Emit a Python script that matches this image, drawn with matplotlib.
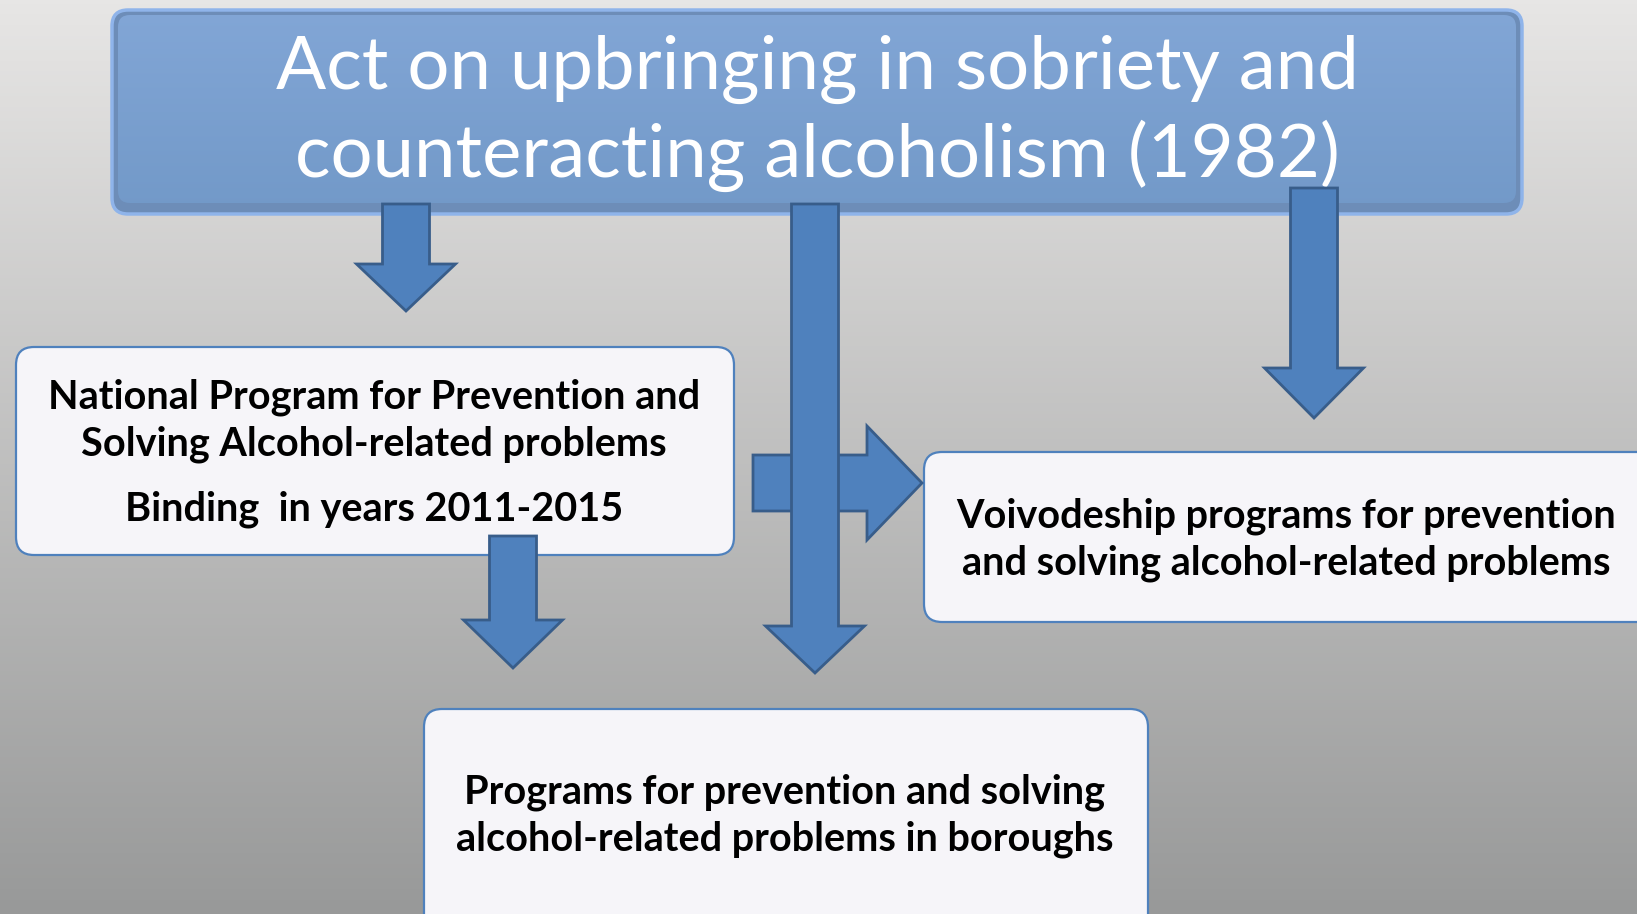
import numpy as np
import matplotlib
matplotlib.use("Agg")
import matplotlib.pyplot as plt
from matplotlib.patches import FancyBboxPatch, Polygon

# ---------------------------------------------
# Diagram content (texts) and layout (pixels)
# ---------------------------------------------
W, H = 1637, 914

title_lines = ["Act on upbringing in sobriety and", "counteracting alcoholism (1982)"]
national_lines = ["National Program for Prevention and", "Solving Alcohol-related problems"]
national_note = "Binding  in years 2011-2015"
voivodeship_lines = ["Voivodeship programs for prevention", "and solving alcohol-related problems"]
borough_lines = ["Programs for prevention and solving", "alcohol-related problems in boroughs"]

# boxes: (x0, y0, x1, y1)
top_box = (112, 10, 1522, 214)
left_box = (16, 347, 734, 555)
right_box = (924, 452, 1665, 622)
bottom_box = (424, 709, 1148, 935)

# down arrows: (center x, y top, y head start, y tip)
down_arrows = [
    (406, 204, 264, 311),
    (513, 536, 620, 668),
    (1314, 188, 368, 418),
    (815, 204, 626, 673),
]
shaft_half = 23.5
head_half = 49.5

# right arrow: (x start, x head start, x tip, center y)
right_arrow = (753, 867, 922, 483)
r_shaft_half = 28
r_head_half = 57

arrow_fill = "#4F81BD"
arrow_edge = "#385D8A"
box_fill = "#F6F5F9"
box_edge = "#4F81BD"

plt.rcParams["font.family"] = ["Lato", "DejaVu Sans"]

fig = plt.figure(figsize=(W / 100, H / 100), dpi=100)
ax = fig.add_axes([0, 0, 1, 1])
ax.set_xlim(0, W)
ax.set_ylim(H, 0)
ax.axis("off")

# background gradient (light gray top -> darker gray bottom)
t = np.linspace(0, 1, 256)[:, None]
top_c = np.array([231, 230, 229]) / 255
bot_c = np.array([152, 153, 153]) / 255
bg = top_c + (bot_c - top_c) * t
bg = np.repeat(bg[:, None, :], 2, axis=1)
ax.imshow(bg, extent=(0, W, H, 0), aspect="auto", zorder=0)

# top box with blue gradient
x0, y0, x1, y1 = top_box
shadow = FancyBboxPatch((x0, y0), x1 - x0, y1 - y0,
                        boxstyle="round,pad=0,rounding_size=16",
                        fc="#6D8DB8", ec="#8FB4EA", lw=2.5, zorder=1)
ax.add_patch(shadow)
inner = FancyBboxPatch((x0 + 6, y0 + 5), x1 - x0 - 12, y1 - y0 - 16,
                       boxstyle="round,pad=0,rounding_size=12",
                       fc="none", ec="none", zorder=2)
ax.add_patch(inner)
tg = np.linspace(0, 1, 128)[:, None]
c_top = np.array([130, 166, 214]) / 255
c_bot = np.array([114, 153, 200]) / 255
grad = c_top + (c_bot - c_top) * tg
grad = np.repeat(grad[:, None, :], 2, axis=1)
im = ax.imshow(grad, extent=(x0, x1, y1, y0), aspect="auto", zorder=2)
im.set_clip_path(inner)

for i, line in enumerate(title_lines):
    ax.text((x0 + x1) / 2, 69 + i * 87, line, ha="center", va="center",
            color="white", fontsize=53.5, zorder=3)

# white rounded boxes
for (bx0, by0, bx1, by1) in [left_box, right_box, bottom_box]:
    ax.add_patch(FancyBboxPatch((bx0, by0), bx1 - bx0, by1 - by0,
                                boxstyle="round,pad=0,rounding_size=18",
                                fc=box_fill, ec=box_edge, lw=1.6, zorder=4))

box_font = dict(ha="center", va="center", color="black", fontsize=28.5,
                fontweight="bold", zorder=6)
for i, line in enumerate(national_lines):
    ax.text(374, 397 + i * 47, line, **box_font)
ax.text(374, 509, national_note, **box_font)
for i, line in enumerate(voivodeship_lines):
    ax.text(1286, 516 + i * 47, line, **box_font)
for i, line in enumerate(borough_lines):
    ax.text(785, 792 + i * 47, line, **box_font)

# horizontal arrow (drawn under the long vertical one)
xs, xh, xt, yc = right_arrow
ax.add_patch(Polygon([(xs, yc - r_shaft_half), (xh, yc - r_shaft_half),
                      (xh, yc - r_head_half), (xt, yc),
                      (xh, yc + r_head_half), (xh, yc + r_shaft_half),
                      (xs, yc + r_shaft_half)],
                     closed=True, fc=arrow_fill, ec=arrow_edge, lw=2.0,
                     joinstyle="miter", zorder=7))

# down arrows
for k, (cx, yt, yh, ytip) in enumerate(down_arrows):
    ax.add_patch(Polygon([(cx - shaft_half, yt), (cx + shaft_half, yt),
                          (cx + shaft_half, yh), (cx + head_half, yh),
                          (cx, ytip), (cx - head_half, yh),
                          (cx - shaft_half, yh)],
                         closed=True, fc=arrow_fill, ec=arrow_edge, lw=2.0,
                         joinstyle="miter", zorder=8 + k))

fig.savefig("out.png", dpi=100)
